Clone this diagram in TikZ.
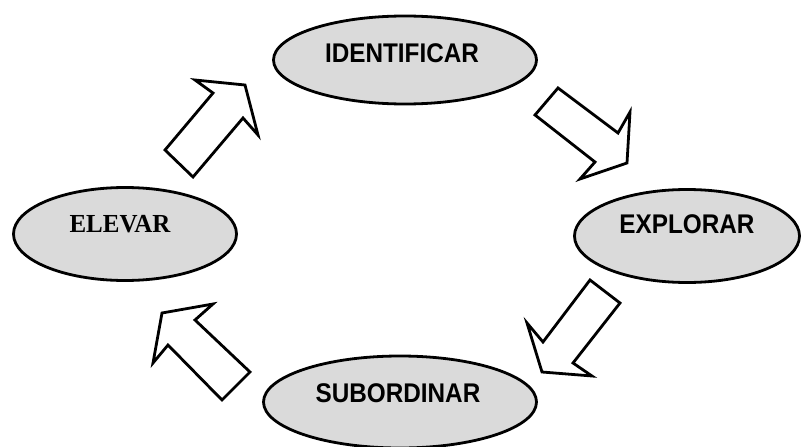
\documentclass[tikz,border=0pt]{standalone}
\usepackage{fontspec}
\setmainfont{Liberation Serif}
\setsansfont{Liberation Sans}
\usetikzlibrary{shapes.geometric}
\definecolor{ellfill}{HTML}{DADADA}
\begin{document}
\begin{tikzpicture}[x=1pt,y=-1pt,
  stage/.style={ellipse,draw=black,fill=ellfill,line width=2.8pt,inner sep=0pt},
  stagetext/.style={anchor=base,inner sep=0pt,font=\sffamily\bfseries\fontsize{27}{27}\selectfont,xscale=0.9},
  serifstage/.style={anchor=base,inner sep=0pt,font=\rmfamily\bfseries\fontsize{26}{26}\selectfont,xscale=0.96},
  blockarrow/.style={draw=black,fill=white,line width=2.8pt,line join=miter}]
\useasboundingbox (0,0) rectangle (801,447);
\node[stage,minimum width=263pt,minimum height=88pt] (ident) at (405,60) {};
\node[stage,minimum width=225pt,minimum height=93pt] (explo) at (687,236) {};
\node[stage,minimum width=273pt,minimum height=92pt] (subor) at (400,402) {};
\node[stage,minimum width=223pt,minimum height=93pt] (eleva) at (125,234) {};
\node[stagetext,transform shape] (tident) at (402,62) {IDENTIFICAR};
\node[stagetext,transform shape] (texplo) at (687,233) {EXPLORAR};
\node[stagetext,transform shape] (tsubor) at (398,402) {SUBORDINAR};
\node[serifstage,transform shape] (televa) at (120,232) {ELEVAR};
% block arrows
\draw[blockarrow] (165,150) -- (213,93) -- (195,80) -- (245,85) -- (258,135) -- (243,118) -- (193,177) -- cycle;
\draw[blockarrow] (535,115) -- (558,88) -- (618,133) -- (630,112) -- (627,163) -- (580,179) -- (595,162) -- cycle;
\draw[blockarrow] (590,280) -- (620,303) -- (573,363) -- (592,376) -- (542,372) -- (527,323) -- (543,342) -- cycle;
\draw[blockarrow] (213,304) -- (195,320) -- (250,372) -- (222,400) -- (168,345) -- (153,363) -- (162,313) -- cycle;
\end{tikzpicture}
\end{document}
